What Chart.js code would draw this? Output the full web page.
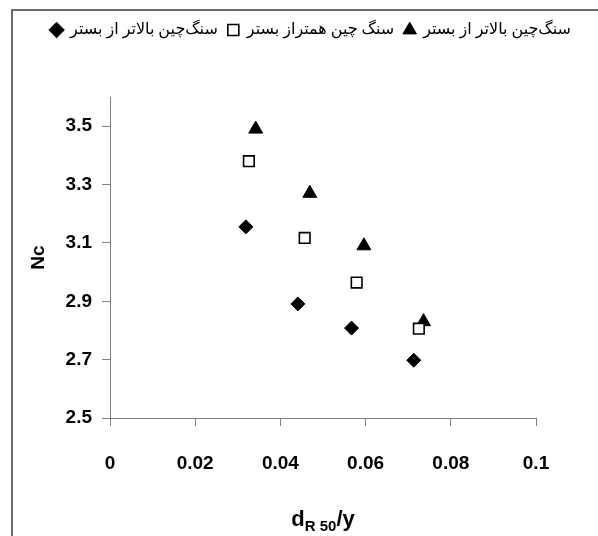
<!DOCTYPE html>
<html>
<head>
<meta charset="utf-8">
<script src="https://cdn.jsdelivr.net/npm/chart.js@4.4.1/dist/chart.umd.min.js"></script>
<style>
  body { margin: 0; background: #fff; }
  .chart-box { position: relative; width: 598px; height: 536px; }
</style>
</head>
<body>
<div class="chart-box"><canvas id="ncChart"></canvas></div>
<script>
// legend names, in legend order (diamond, square, triangle)
const seriesNames = ["سنگ‌چین بالاتر از بستر", "سنگ چین همتراز بستر", "سنگ‌چین بالاتر از بستر"];

const diamondX = [0.0319, 0.0441, 0.0567, 0.0713];
const diamondY = [3.155, 2.891, 2.808, 2.698];

const squareX = [0.0326, 0.0457, 0.0579, 0.0725];
const squareY = [3.380, 3.117, 2.964, 2.806];

const triangleX = [0.0342, 0.0469, 0.0596, 0.0736];
const triangleY = [3.49, 3.27, 3.09, 2.83];

const xTicks = [0, 0.02, 0.04, 0.06, 0.08, 0.1];
const xTickLabels = ["0", "0.02", "0.04", "0.06", "0.08", "0.1"];
const yTicks = [2.5, 2.7, 2.9, 3.1, 3.3, 3.5];
const yTickLabels = ["2.5", "2.7", "2.9", "3.1", "3.3", "3.5"];

const axisColor = "#808080";
const tickFont = { family: "Arial, 'Liberation Sans', sans-serif", size: 19, weight: "bold" };

const toPoints = (xs, ys) => xs.map((x, i) => ({ x: x, y: ys[i] }));

// outer frame and the x title with its subscript
const frameAndTitle = {
    id: "frameAndTitle",
    beforeDraw(chart) {
        const ctx = chart.ctx;
        ctx.save();
        ctx.strokeStyle = "#3c3c3c";
        ctx.lineWidth = 1.5;
        ctx.beginPath();
        ctx.moveTo(12, chart.height);
        ctx.lineTo(12, 10);
        ctx.lineTo(chart.width, 10);
        ctx.stroke();
        ctx.restore();
    },
    afterDraw(chart) {
        const { ctx, chartArea } = chart;
        const mainFont = "bold 22px Arial, 'Liberation Sans', sans-serif";
        const subFont = "bold 15px Arial, 'Liberation Sans', sans-serif";
        ctx.save();
        ctx.fillStyle = "#000";
        ctx.textBaseline = "alphabetic";
        ctx.font = mainFont;
        const wd = ctx.measureText("d").width, wy = ctx.measureText("/y").width;
        ctx.font = subFont;
        const ws = ctx.measureText("R 50").width;
        let x = (chartArea.left + chartArea.right) / 2 - (wd + ws + wy) / 2;
        const base = chart.height - 10;
        ctx.font = mainFont;
        ctx.fillText("d", x, base);
        x += wd;
        ctx.font = subFont;
        ctx.fillText("R 50", x, base + 5);
        x += ws;
        ctx.font = mainFont;
        ctx.fillText("/y", x, base);
        ctx.restore();
    }
};

const ncChart = new Chart(document.getElementById("ncChart").getContext("2d"), {
    type: "scatter",
    data: {
        datasets: [
            {
                label: seriesNames[0],
                data: toPoints(diamondX, diamondY),
                pointStyle: "rectRot",
                pointRadius: 7,
                backgroundColor: "#000",
                borderColor: "#000",
                borderWidth: 1,
            },
            {
                label: seriesNames[1],
                data: toPoints(squareX, squareY),
                pointStyle: "rect",
                pointRadius: 7.5,
                backgroundColor: "#fff",
                borderColor: "#000",
                borderWidth: 1.6,
            },
            {
                label: seriesNames[2],
                data: toPoints(triangleX, triangleY),
                pointStyle: "triangle",
                pointRadius: 8,
                backgroundColor: "#000",
                borderColor: "#000",
                borderWidth: 1,
            },
        ],
    },
    options: {
        responsive: true,
        maintainAspectRatio: false,
        animation: false,
        events: [],
        layout: { padding: { top: 12, left: 24, right: 0, bottom: 0 } },
        plugins: {
            tooltip: { enabled: false },
            legend: {
                position: "top",
                weight: 3000,
                labels: {
                    usePointStyle: true,
                    boxWidth: 11,
                    boxHeight: 11,
                    padding: 10,
                    color: "#000",
                    font: { family: "'Times New Roman', 'Liberation Serif', 'DejaVu Sans', serif", size: 16 },
                },
            },
            // empty boxes that hold the plot area in place
            subtitle: { display: true, text: "", position: "top", weight: 100, font: { size: 10 }, padding: 18.5 },
            title: { display: true, text: "", position: "right", fullSize: false, font: { size: 10 }, padding: 25 },
        },
        scales: {
            x: {
                type: "linear",
                min: 0,
                max: 0.1,
                afterBuildTicks: (scale) => { scale.ticks = xTicks.map((v) => ({ value: v })); },
                afterFit: (scale) => { scale.height = 118; },
                border: { color: axisColor, width: 1 },
                grid: { drawOnChartArea: false, drawTicks: true, tickLength: 8, tickColor: axisColor },
                ticks: {
                    color: "#000",
                    font: tickFont,
                    padding: 26,
                    maxRotation: 0,
                    callback: (value, i) => xTickLabels[i],
                },
            },
            y: {
                type: "linear",
                min: 2.5,
                max: 3.6,
                afterBuildTicks: (scale) => { scale.ticks = yTicks.map((v) => ({ value: v })); },
                afterFit: (scale) => { scale.width = 86; },
                border: { color: axisColor, width: 1 },
                grid: { drawOnChartArea: false, drawTicks: true, tickLength: 8, tickColor: axisColor },
                ticks: {
                    color: "#000",
                    font: tickFont,
                    padding: 10,
                    callback: (value, i) => yTickLabels[i],
                },
                title: {
                    display: true,
                    text: "Nc",
                    color: "#000",
                    font: { family: "Arial, 'Liberation Sans', sans-serif", size: 19, weight: "bold" },
                    padding: { top: 3 },
                },
            },
        },
    },
    plugins: [frameAndTitle],
});
</script>
</body>
</html>
